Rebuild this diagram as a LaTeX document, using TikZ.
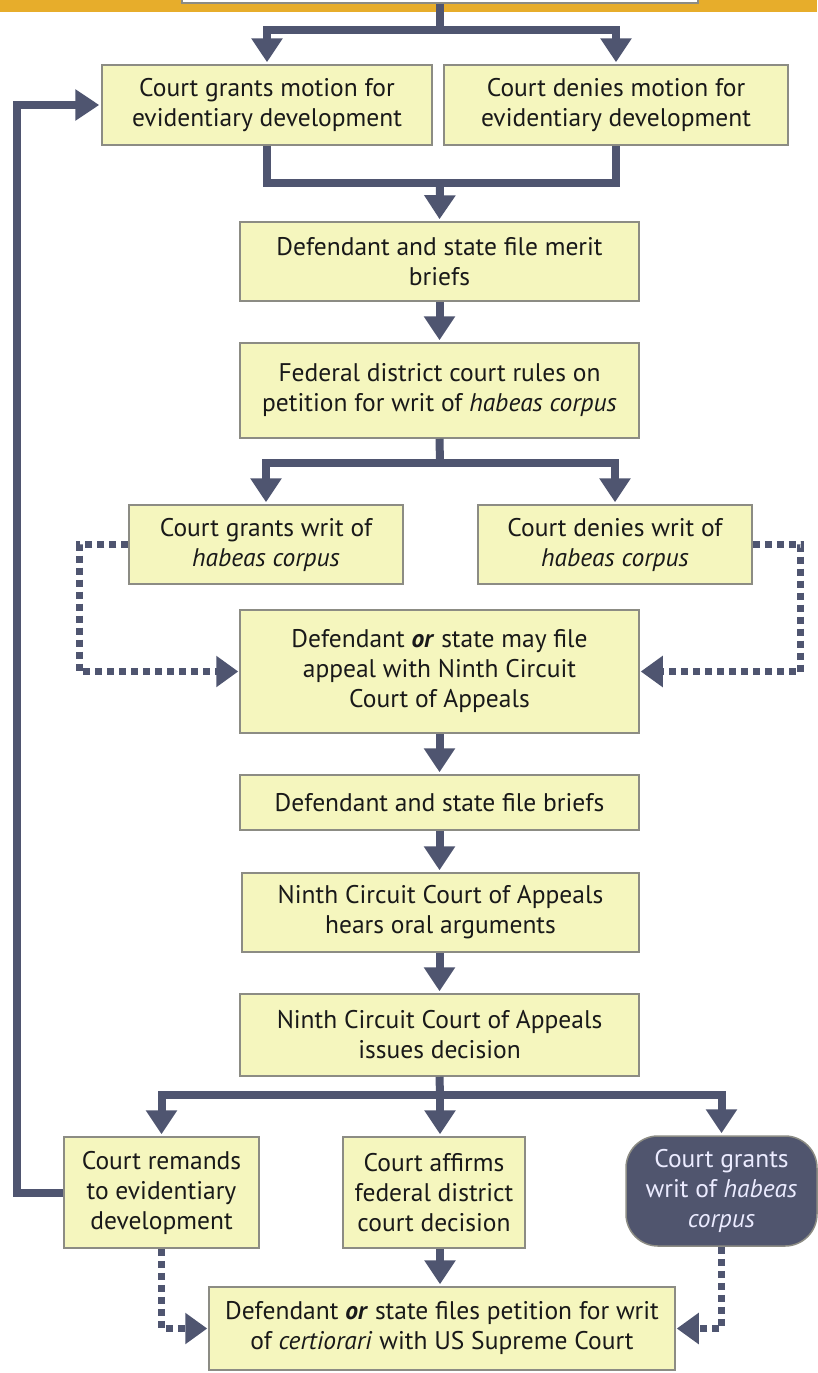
\documentclass[tikz,border=0pt]{standalone}
\usepackage{fontspec}
\setmainfont{PT Sans}
\usetikzlibrary{arrows.meta}
\definecolor{boxfill}{HTML}{F5F6BE}
\definecolor{boxline}{HTML}{8C8C84}
\definecolor{conn}{HTML}{4F5570}
\definecolor{gold}{HTML}{E7AD2B}
\definecolor{darkfill}{HTML}{50556E}
\tikzset{
  box/.style={draw=boxline, fill=boxfill, line width=1.5pt, align=center, inner sep=0pt, text=black!90, font=\fontsize{25.5}{30}\selectfont},
  darkbox/.style={box, fill=darkfill, text=white!92!blue, rounded corners=32pt},
  line/.style={draw=conn, line width=8pt, line join=miter},
  arr/.style={line, -{Triangle[width=30pt,length=24pt]}, shorten >=2pt},
  dotl/.style={draw=conn, line width=7pt, line join=miter, dash pattern=on 7pt off 5pt, -{Triangle[width=30pt,length=22pt]}, shorten >=1pt}
}
\begin{document}
\begin{tikzpicture}[x=1pt,y=-1pt]
\useasboundingbox (0,0) rectangle (817,1373);
\fill[gold] (0,0) rectangle (817,12);
\node[box, fill=white, minimum width=516pt, minimum height=22pt] (top) at (440,-8) {};

\node[box, minimum width=330pt, minimum height=80pt] (gm) at (267,105) {Court grants motion for\\evidentiary development};
\node[box, minimum width=344pt, minimum height=80pt] (dm) at (616,105) {Court denies motion for\\evidentiary development};
\node[box, minimum width=399pt, minimum height=79pt] (mb) at (439.5,261.5) {Defendant and state file merit\\briefs};
\node[box, minimum width=399pt, minimum height=95pt] (fd) at (439.5,390.5) {Federal district court rules on\\petition for writ of \textit{habeas corpus}};
\node[box, minimum width=274pt, minimum height=79pt] (gw) at (266,544.5) {Court grants writ of\\\textit{habeas corpus}};
\node[box, minimum width=274pt, minimum height=79pt] (dw) at (615,544.5) {Court denies writ of\\\textit{habeas corpus}};
\node[box, minimum width=399pt, minimum height=123pt] (ap) at (439.5,671.5) {Defendant \textbf{\textit{or}} state may file\\appeal with Ninth Circuit\\Court of Appeals};
\node[box, minimum width=399pt, minimum height=55pt] (fb) at (439.5,802.5) {Defendant and state file briefs};
\node[box, minimum width=397pt, minimum height=79pt] (nh) at (440.5,912.5) {Ninth Circuit Court of Appeals\\hears oral arguments};
\node[box, minimum width=399pt, minimum height=82pt] (id) at (439.5,1035) {Ninth Circuit Court of Appeals\\issues decision};
\node[box, minimum width=195pt, minimum height=111pt] (rm) at (161.5,1192.5) {Court remands\\to evidentiary\\development};
\node[box, minimum width=182pt, minimum height=111pt] (af) at (434,1192.5) {Court affirms\\federal district\\court decision};
\node[darkbox, minimum width=191pt, minimum height=110pt] (gr) at (721.5,1191) {Court grants\\writ of \textit{habeas}\\\textit{corpus}};
\node[box, minimum width=466pt, minimum height=83pt] (ce) at (442,1328.5) {Defendant \textbf{\textit{or}} state files petition for writ\\of \textit{certiorari} with US Supreme Court};

\coordinate (j1) at (440,30);
\coordinate (j2) at (440,183);
\coordinate (j3) at (440,463);
\coordinate (j4) at (440,1095);

\draw[line] (top.south) -- (j1);
\draw[arr] (j1) -| (gm.north);
\draw[arr] (j1) -| (dm.north);
\draw[line] (gm.south) |- (j2) -| (dm.south);
\draw[arr] (j2) -- (mb.north);
\draw[arr] (mb.south) -- (fd.north);
\draw[line] (fd.south) -- (j3);
\draw[arr] (j3) -| (gw.north);
\draw[arr] (j3) -| (dw.north);
\draw[dotl] (gw.west) -- ++(-49,0) |- (ap.west);
\draw[dotl] (dw.east) -- ++(48,0) |- (ap.east);
\draw[arr] (ap.south) -- (fb.north);
\draw[arr] (fb.south) -- (nh.north -| fb.south);
\draw[arr] (nh.south -| id.north) -- (id.north);
\draw[line] (id.south) -- (j4);
\draw[arr] (j4) -| (rm.north);
\draw[arr] (j4) -- (j4 |- af.north);
\draw[arr] (j4) -| (gr.north);
\draw[arr] (af.south -| j4) -- (ce.north -| j4);
\draw[dotl] (rm.south) |- (ce.west);
\draw[dotl] (gr.south) |- (ce.east);
\draw[arr] (rm.west) -- ++(-46,0) |- (gm.west);
\end{tikzpicture}
\end{document}
